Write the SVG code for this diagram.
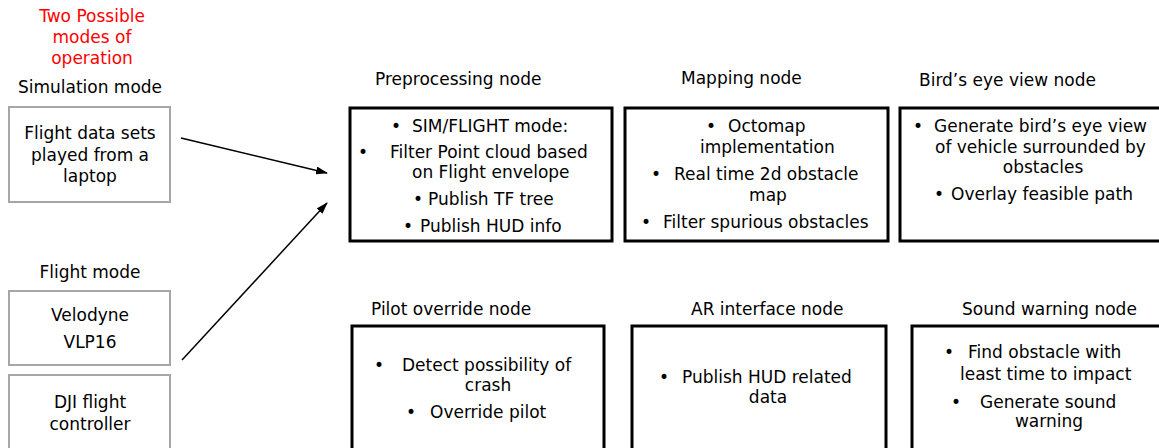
<svg xmlns="http://www.w3.org/2000/svg" width="1159" height="448" viewBox="0 0 1159 448">
  <style>
    text { font-family: "DejaVu Sans", "Liberation Sans", sans-serif; font-size: 17px; fill: #000; }
    .red { fill: #ff0000; }
    .mid { text-anchor: middle; }
    .src { fill: #fff; stroke: #a6a6a6; stroke-width: 2; }
    .node { fill: #fff; stroke: #000; stroke-width: 3; }
    .conn { stroke: #000; stroke-width: 1.5; fill: none; marker-end: url(#arrow); }
  </style>
  <defs>
    <marker id="arrow" viewBox="0 0 12 8" refX="11" refY="4" markerWidth="12" markerHeight="8" orient="auto" markerUnits="userSpaceOnUse">
      <path d="M0,0 L12,4 L0,8 z" fill="#000"/>
    </marker>
  </defs>
  <rect width="1159" height="448" fill="#fff"/>

  <!-- modes header -->
  <g id="modes-title">
    <text class="red mid" x="92" y="22">Two Possible</text>
    <text class="red mid" x="92" y="43">modes of</text>
    <text class="red mid" x="92" y="64">operation</text>
  </g>

  <!-- simulation mode source -->
  <g id="simulation">
    <text class="mid" x="90" y="93">Simulation mode</text>
    <rect class="src" x="9" y="107" width="161" height="95"/>
    <text class="mid" x="90" y="139">Flight data sets</text>
    <text class="mid" x="90" y="161">played from a</text>
    <text class="mid" x="90" y="182">laptop</text>
  </g>

  <!-- flight mode sources -->
  <g id="flight-mode">
    <text class="mid" x="90" y="278">Flight mode</text>
  </g>
  <g id="velodyne">
    <rect class="src" x="9" y="291" width="161" height="74"/>
    <text class="mid" x="90" y="321">Velodyne</text>
    <text class="mid" x="90" y="348">VLP16</text>
  </g>
  <g id="dji">
    <rect class="src" x="9" y="375" width="161" height="80"/>
    <text class="mid" x="90" y="408">DJI flight</text>
    <text class="mid" x="90" y="430">controller</text>
  </g>

  <!-- connectors -->
  <g id="connectors">
    <line class="conn" x1="181" y1="138" x2="327" y2="173"/>
    <line class="conn" x1="182" y1="360" x2="327" y2="203"/>
  </g>

  <!-- preprocessing node -->
  <g id="preprocessing">
    <text x="375" y="85">Preprocessing node</text>
    <rect class="node" x="350" y="108" width="262" height="133"/>
    <text x="391" y="132">•</text><text x="412" y="132">SIM/FLIGHT mode:</text>
    <text x="358" y="158">•</text><text x="390" y="158">Filter Point cloud based</text>
    <text x="412" y="178">on Flight envelope</text>
    <text x="413" y="205">•</text><text x="428" y="205">Publish TF tree</text>
    <text x="403" y="232">•</text><text x="420" y="232">Publish HUD info</text>
  </g>

  <!-- mapping node -->
  <g id="mapping">
    <text x="681" y="84">Mapping node</text>
    <rect class="node" x="625" y="108" width="263" height="133"/>
    <text x="706" y="132">•</text><text x="728" y="132">Octomap</text>
    <text x="700" y="153">implementation</text>
    <text x="651" y="180">•</text><text x="674" y="180">Real time 2d obstacle</text>
    <text class="mid" x="768" y="201">map</text>
    <text x="641" y="228">•</text><text x="663" y="228">Filter spurious obstacles</text>
  </g>

  <!-- bird's eye view node -->
  <g id="birds-eye">
    <text x="919" y="86">Bird’s eye view node</text>
    <rect class="node" x="900" y="108" width="270" height="133"/>
    <text x="913" y="132">•</text><text x="934" y="132">Generate bird’s eye view</text>
    <text x="935" y="153">of vehicle surrounded by</text>
    <text class="mid" x="1043" y="173">obstacles</text>
    <text x="934" y="200">•</text><text x="951" y="200">Overlay feasible path</text>
  </g>

  <!-- pilot override node -->
  <g id="pilot-override">
    <text x="371" y="315">Pilot override node</text>
    <rect class="node" x="352" y="326" width="252" height="130"/>
    <text x="374" y="371">•</text><text x="402" y="371">Detect possibility of</text>
    <text class="mid" x="488" y="391">crash</text>
    <text x="406" y="418">•</text><text x="430" y="418">Override pilot</text>
  </g>

  <!-- AR interface node -->
  <g id="ar-interface">
    <text x="691" y="315">AR interface node</text>
    <rect class="node" x="632" y="326" width="254" height="130"/>
    <text x="659" y="383">•</text><text x="682" y="383">Publish HUD related</text>
    <text class="mid" x="768" y="403">data</text>
  </g>

  <!-- sound warning node -->
  <g id="sound-warning">
    <text x="962" y="315">Sound warning node</text>
    <rect class="node" x="912" y="326" width="260" height="130"/>
    <text x="944" y="358">•</text><text x="968" y="358">Find obstacle with</text>
    <text x="960" y="380">least time to impact</text>
    <text x="951" y="408">•</text><text x="980" y="408">Generate sound</text>
    <text class="mid" x="1049" y="427">warning</text>
  </g>
</svg>
